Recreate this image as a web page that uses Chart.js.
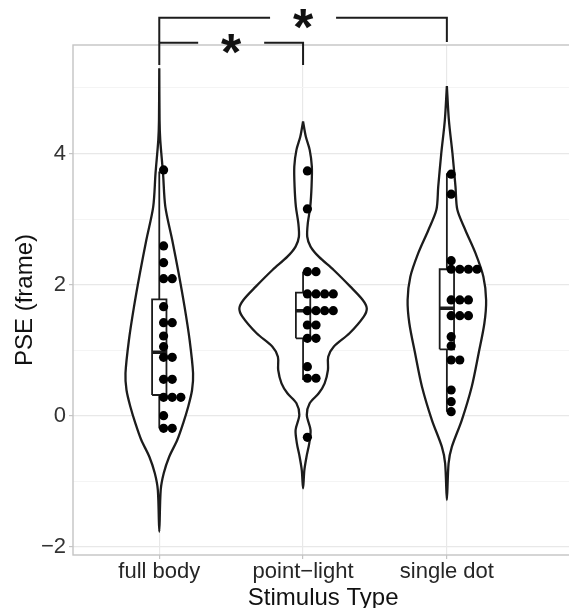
<!DOCTYPE html>
<html>
<head>
<meta charset="utf-8">
<script src="https://cdn.jsdelivr.net/npm/chart.js@4.4.0/dist/chart.umd.min.js"></script>
<style>
  html, body { margin: 0; padding: 0; background: #fff; overflow: hidden; }
  canvas { display: block; }
</style>
</head>
<body>
<canvas id="violin" width="578" height="616"></canvas>
<script>
const categories = ["full body", "point\u2212light", "single dot"];

// violin outlines: y level and half width (category units)
const fullLevels = [5.30, 4.51, 4.20, 3.70, 3.19, 2.68, 2.17, 1.66, 1.155, 0.647, 0.392, 0.137, -0.116, -0.371, -0.626, -0.879, -1.134, -1.77];
const fullWidths = [0, 0.002, 0.007, 0.026, 0.042, 0.090, 0.135, 0.176, 0.211, 0.235, 0.228, 0.201, 0.166, 0.125, 0.069, 0.031, 0.010, 0];
const pointLevels = [4.487, 4.258, 4.055, 3.80, 3.495, 3.19, 2.936, 2.73, 2.58, 2.426, 2.223, 1.969, 1.766, 1.639, 1.511, 1.257, 1.053, 0.90, 0.697, 0.494, 0.342, 0.189, 0.01, -0.218, -0.421, -0.626, -0.829, -1.108];
const pointWidths = [0, 0.019, 0.046, 0.061, 0.059, 0.050, 0.033, 0.029, 0.052, 0.109, 0.213, 0.329, 0.415, 0.443, 0.422, 0.323, 0.213, 0.175, 0.173, 0.150, 0.109, 0.046, 0.026, 0.052, 0.043, 0.024, 0.009, 0];
const singleLevels = [5.03, 4.51, 4.00, 3.495, 3.14, 2.83, 2.48, 2.12, 1.766, 1.41, 0.953, 0.443, -0.066, -0.473, -0.726, -1.286];
const singleWidths = [0, 0.014, 0.039, 0.060, 0.073, 0.129, 0.199, 0.254, 0.273, 0.261, 0.221, 0.173, 0.104, 0.035, 0.012, 0];

// box plot summaries per category
const boxMax = [3.724, 2.197, 3.699];
const boxQ3 = [1.776, 1.877, 2.234];
const boxMed = [0.967, 1.602, 1.639];
const boxQ1 = [0.316, 1.181, 1.013];
const boxMin = [-0.192, 0.545, 0.061];

// individual PSE values (one entry per dot)
const fullDots = [3.749, 2.59, 2.335, 2.09, 2.09, 1.663, 1.419, 1.419, 1.216, 1.053, 0.891, 0.891, 0.555, 0.555, 0.281, 0.281, 0.281, 0, -0.192, -0.192];
const pointDots = [3.734, 3.154, 2.197, 2.197, 1.857, 1.857, 1.857, 1.857, 1.602, 1.602, 1.602, 1.602, 1.384, 1.384, 1.181, 1.181, 0.748, 0.571, 0.571, -0.33];
const singleDots = [3.684, 3.379, 2.365, 2.234, 2.234, 2.234, 2.234, 1.766, 1.766, 1.766, 1.526, 1.526, 1.526, 1.206, 1.064, 0.85, 0.85, 0.392, 0.214, 0.061];

const yTicks = [-2, -1, 0, 1, 2, 3, 4, 5];

// significance brackets
const sigFrom = [1, 1];
const sigTo = [3, 2];
const sigLevel = [6.07, 5.69];
const sigTip = [5.70, 5.35];
const sigLabel = ["*", "*"];

const fontFamily = "'Liberation Sans', Arial, sans-serif";
const ink = "#1c1c1c";
const boxHalf = 0.05;
const dotStep = 0.06;

function outline(levels, widths, c) {
  const right = levels.map((y, i) => ({ x: c + widths[i], y }));
  const left = levels.map((y, i) => ({ x: c - widths[i], y })).reverse();
  return right.concat(left.slice(1));
}

function stacked(values, c) {
  const seen = {};
  return values.map(v => {
    const k = seen[v] || 0;
    seen[v] = k + 1;
    return { x: c + (k + 0.5) * dotStep, y: v };
  });
}

const violins = [
  outline(fullLevels, fullWidths, 1),
  outline(pointLevels, pointWidths, 2),
  outline(singleLevels, singleWidths, 3)
];
const dots = [stacked(fullDots, 1), stacked(pointDots, 2), stacked(singleDots, 3)];

const datasets = [];
violins.forEach(pts => {
  datasets.push({
    data: pts, order: 3, borderColor: ink, borderWidth: 2.3,
    backgroundColor: "#ffffff", fill: "shape", tension: 0.3, pointRadius: 0
  });
});
categories.forEach((name, i) => {
  const c = i + 1;
  datasets.push({
    data: [
      { x: c - boxHalf, y: boxQ1[i] }, { x: c - boxHalf, y: boxQ3[i] },
      { x: c + boxHalf, y: boxQ3[i] }, { x: c + boxHalf, y: boxQ1[i] },
      { x: c - boxHalf, y: boxQ1[i] }
    ],
    order: 2, borderColor: ink, borderWidth: 1.8, fill: false, pointRadius: 0, tension: 0
  });
  datasets.push({
    data: [
      { x: c, y: boxMax[i] }, { x: c, y: boxQ3[i] }, { x: c, y: null },
      { x: c, y: boxQ1[i] }, { x: c, y: boxMin[i] }
    ],
    order: 2, borderColor: ink, borderWidth: 1.8, fill: false, pointRadius: 0, spanGaps: false
  });
  datasets.push({
    data: [{ x: c - boxHalf, y: boxMed[i] }, { x: c + boxHalf, y: boxMed[i] }],
    order: 2, borderColor: ink, borderWidth: 3.6, fill: false, pointRadius: 0
  });
});
dots.forEach(pts => {
  datasets.push({
    data: pts, order: 0, showLine: false, pointRadius: 4.6, pointStyle: "circle",
    pointBackgroundColor: "#000", pointBorderWidth: 0, pointBorderColor: "#000"
  });
});

const panelAndBrackets = {
  id: "panelAndBrackets",
  beforeDatasetsDraw(chart) {
    const { ctx, chartArea: a } = chart;
    ctx.save();
    ctx.strokeStyle = "#c4c4c4";
    ctx.lineWidth = 1.4;
    ctx.strokeRect(a.left, a.top, a.right - a.left, a.bottom - a.top);
    ctx.restore();
  },
  afterDraw(chart) {
    const { ctx } = chart;
    const xs = chart.scales.x, ys = chart.scales.y;
    ctx.save();
    ctx.strokeStyle = ink;
    ctx.lineWidth = 2;
    ctx.lineJoin = "miter";
    ctx.fillStyle = "#111";
    ctx.font = "bold 52px " + fontFamily;
    for (let i = 0; i < sigFrom.length; i++) {
      const x1 = xs.getPixelForValue(sigFrom[i]);
      const x2 = xs.getPixelForValue(sigTo[i]);
      const yl = ys.getPixelForValue(sigLevel[i]);
      const yt = ys.getPixelForValue(sigTip[i]);
      const xm = (x1 + x2) / 2;
      ctx.beginPath();
      ctx.moveTo(x1, yt); ctx.lineTo(x1, yl); ctx.lineTo(xm - 33, yl);
      ctx.moveTo(xm + 33, yl); ctx.lineTo(x2, yl); ctx.lineTo(x2, yt);
      ctx.stroke();
      const m = ctx.measureText(sigLabel[i]);
      const mid = (m.actualBoundingBoxDescent - m.actualBoundingBoxAscent) / 2;
      ctx.textAlign = "center";
      ctx.textBaseline = "alphabetic";
      ctx.fillText(sigLabel[i], xm, yl + 1 - mid);
    }
    ctx.restore();
  }
};

new Chart(document.getElementById("violin"), {
  type: "line",
  data: { datasets },
  plugins: [panelAndBrackets],
  options: {
    responsive: false,
    animation: false,
    devicePixelRatio: 1,
    events: [],
    layout: { padding: { top: 45, left: 0, right: 0, bottom: 0 } },
    plugins: { legend: { display: false }, tooltip: { enabled: false } },
    scales: {
      x: {
        type: "linear",
        min: 0.4,
        max: 3.88,
        afterBuildTicks: s => { s.ticks = categories.map((c, i) => ({ value: i + 1 })); },
        afterFit: s => { s.height = 61; },
        border: { display: false },
        grid: { color: "#e8e8e8", lineWidth: 1.2, tickLength: 4, tickColor: "#c4c4c4" },
        ticks: {
          autoSkip: false, maxRotation: 0, padding: 0, color: "#262626",
          font: { family: fontFamily, size: 22 },
          callback: v => categories[v - 1]
        },
        title: {
          display: true, text: "Stimulus Type", color: "#111",
          font: { family: fontFamily, size: 24 }, padding: { top: 0, bottom: 3 }
        }
      },
      y: {
        type: "linear",
        min: -2.125,
        max: 5.655,
        afterBuildTicks: s => { s.ticks = yTicks.map(v => ({ value: v })); },
        afterFit: s => { s.width = 73; },
        border: { display: false },
        grid: {
          color: c => (c.tick && c.tick.value % 2 === 0 ? "#e8e8e8" : "#f4f4f4"),
          lineWidth: c => (c.tick && c.tick.value % 2 === 0 ? 1.2 : 1),
          tickLength: 4,
          tickColor: c => (c.tick && c.tick.value % 2 === 0 ? "#c4c4c4" : "rgba(0,0,0,0)")
        },
        ticks: {
          padding: 3, color: "#333",
          font: { family: fontFamily, size: 22 },
          callback: v => (v % 2 !== 0 ? "" : v < 0 ? "\u2212" + Math.abs(v) : String(v))
        },
        title: {
          display: true, text: "PSE (frame)", color: "#111",
          font: { family: fontFamily, size: 24 }, padding: { top: 11, bottom: 0 }
        }
      }
    }
  }
});
</script>
</body>
</html>
